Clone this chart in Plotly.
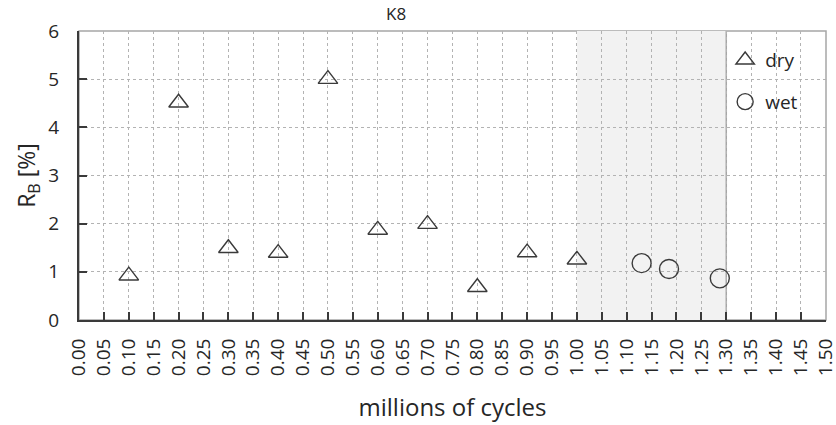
import plotly.graph_objects as go

# data
dry_x = [0.1, 0.2, 0.3, 0.4, 0.5, 0.6, 0.7, 0.8, 0.9, 1.0]
dry_y = [0.92, 4.51, 1.49, 1.39, 5.0, 1.87, 1.99, 0.68, 1.40, 1.25]
wet_x = [1.13, 1.185, 1.287]
wet_y = [1.18, 1.06, 0.865]
wet_region = [1.0, 1.3]
x_ticks = [round(i * 0.05, 2) for i in range(31)]
x_ticklabels = [f"{v:.2f}" for v in x_ticks]
y_ticks = [0, 1, 2, 3, 4, 5, 6]
x_range = [0.0, 1.5003]
y_range = [0, 6]

FONT = "Open Sans"
DARK = "#3a3a3a"
TXT = "#262626"

fig = go.Figure()
fig.add_trace(go.Scatter(
    x=dry_x, y=dry_y, mode="markers", name="dry", legendgroup="a",
    marker=dict(symbol="triangle-up-open", size=17, color=DARK, line=dict(width=1.4, color=DARK)),
))
fig.add_trace(go.Scatter(
    x=wet_x, y=wet_y, mode="markers", name="wet", legendgroup="b",
    marker=dict(symbol="circle-open", size=19, color=DARK, line=dict(width=1.4, color=DARK)),
))

fig.add_shape(type="rect", xref="x", yref="y", x0=wet_region[0], x1=wet_region[1],
              y0=y_range[0], y1=y_range[1], fillcolor="#f2f2f2", line=dict(width=0), layer="below")
fig.add_shape(type="line", xref="x", yref="y", x0=wet_region[1], x1=wet_region[1],
              y0=y_range[0], y1=y_range[1], line=dict(color="#a6a6a6", width=1.5), layer="below")
# plot border
fig.add_shape(type="rect", xref="paper", yref="paper", x0=0, x1=1, y0=0, y1=1,
              line=dict(color="#a6a6a6", width=1.5), layer="below")

fig.update_layout(
    width=836, height=425,
    margin=dict(l=79, r=10, t=31, b=105),
    paper_bgcolor="white", plot_bgcolor="white",
    font=dict(family=FONT, color=TXT),
    showlegend=True,
    legend=dict(x=0.865, y=0.965, xanchor="left", yanchor="top", bgcolor="rgba(0,0,0,0)",
                font=dict(size=19, family=FONT, color=TXT), tracegroupgap=14, itemwidth=30),
    annotations=[dict(text="K8", xref="paper", yref="paper", x=0.425, y=1.0, yanchor="bottom",
                      yshift=4, showarrow=False, font=dict(size=17, family=FONT, color=TXT))],
)
fig.update_xaxes(
    range=x_range, tickmode="array", tickvals=x_ticks, ticktext=x_ticklabels, tickangle=-90,
    showgrid=True, gridcolor="#b3b3b3", griddash="dot", gridwidth=1,
    ticks="inside", ticklen=8, tickcolor=DARK, tickwidth=1.5, ticklabelstandoff=9,
    ticklabeloverflow="allow",
    showline=True, linecolor=DARK, linewidth=2, zeroline=False, automargin=False,
    tickfont=dict(size=19, family=FONT, color=TXT),
    title=dict(text="millions of cycles", font=dict(size=24, family=FONT, color=TXT), standoff=24),
)
fig.update_yaxes(
    range=y_range, tickmode="array", tickvals=y_ticks,
    showgrid=True, gridcolor="#b3b3b3", griddash="dot", gridwidth=1,
    ticks="inside", ticklen=8, tickcolor=DARK, tickwidth=1.5, ticklabelstandoff=14,
    ticklabeloverflow="allow",
    showline=True, linecolor=DARK, linewidth=2, zeroline=False, automargin=False,
    tickfont=dict(size=19, family=FONT, color=TXT),
    title=dict(text="R<sub>B</sub> [%]", font=dict(size=23, family=FONT, color=TXT), standoff=6),
)

fig.write_html("out.html", config={"displayModeBar": False},
               post_script="document.body.style.margin='0';")
